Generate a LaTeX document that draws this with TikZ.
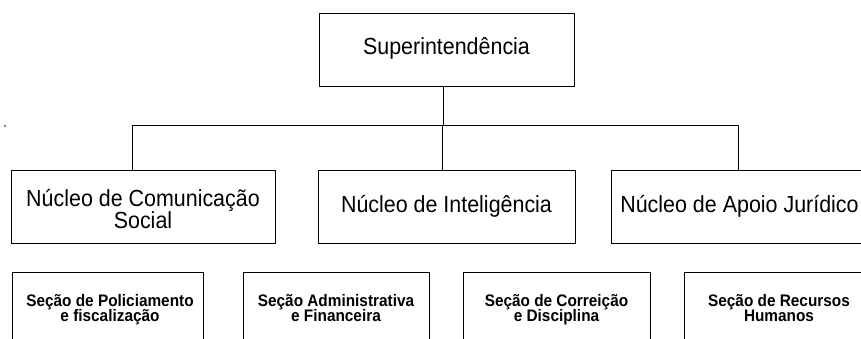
\documentclass[tikz,border=0pt]{standalone}
\usepackage{fontspec}
\setmainfont{Liberation Sans}[FakeStretch=0.92]
\begin{document}
\begin{tikzpicture}[x=1pt,y=-1pt,
  boxbig/.style={draw=black,line width=0.9pt,rectangle,inner sep=0pt,minimum height=73pt},
  boxsml/.style={draw=black,line width=0.9pt,rectangle,inner sep=0pt,minimum height=100pt,anchor=north},
  bigtext/.style={inner sep=0pt,anchor=base,font=\fontsize{23.3}{25}\selectfont},
  smalltext/.style={inner sep=0pt,anchor=base,font=\fontsize{16.7}{18}\selectfont\bfseries},
  conn/.style={draw=black,line width=0.9pt}]
\useasboundingbox (0,0) rectangle (861,339);
\clip (0,0) rectangle (861,339);
% boxes
\node[boxbig,minimum width=255pt] (sup) at (446.5,49.5) {};
\node[boxbig,minimum width=264pt] (n1) at (143,206.5) {};
\node[boxbig,minimum width=257pt] (n2) at (446.5,206.5) {};
\node[boxbig,minimum width=257pt] (n3) at (739.5,206.5) {};
% texts
\node[bigtext] (tsup) at (446.5,55) {Superintendência};
\node[bigtext] (tn1a) at (143,206.7) {Núcleo de Comunicação};
\node[bigtext] (tn1b) at (143,228.2) {Social};
\node[bigtext] (tn2) at (446.5,212) {Núcleo de Inteligência};
\node[bigtext] (tn3) at (739.5,212) {Núcleo de Apoio Jurídico};
\coordinate (bus) at (0,125);
% connectors
\draw[conn] ([xshift=-3.5pt]sup.south) -- ([xshift=-3.5pt]sup.south |- bus);
\draw[conn] ([xshift=-11pt]n1.north) -- ([xshift=-11pt]n1.north |- bus)
   -- ([xshift=-1.5pt]n3.north |- bus) -- ([xshift=-1.5pt]n3.north);
\draw[conn] ([xshift=-4.5pt]n2.north) -- ([xshift=-4.5pt]n2.north |- bus);
% bottom boxes
\node[boxsml,minimum width=191pt] (sa) at (107.5,272) {};
\node[boxsml,minimum width=186pt] (sb) at (336,272) {};
\node[boxsml,minimum width=187pt] (sc) at (556.5,272) {};
\node[boxsml,minimum width=190pt] (sd) at (779,272) {};
\node[smalltext] (ta1) at (110,306) {Seção de Policiamento};
\node[smalltext] (ta2) at (110,321.7) {e fiscalização};
\node[smalltext] (tb1) at (336,306) {Seção Administrativa};
\node[smalltext] (tb2) at (336,321.7) {e Financeira};
\node[smalltext] (tc1) at (556.5,306) {Seção de Correição};
\node[smalltext] (tc2) at (556.5,321.7) {e Disciplina};
\node[smalltext] (td1) at (779,306) {Seção de Recursos};
\node[smalltext] (td2) at (779,321.7) {Humanos};
% stray dot
\fill[black] (5,126) circle (0.8pt);
\end{tikzpicture}
\end{document}
